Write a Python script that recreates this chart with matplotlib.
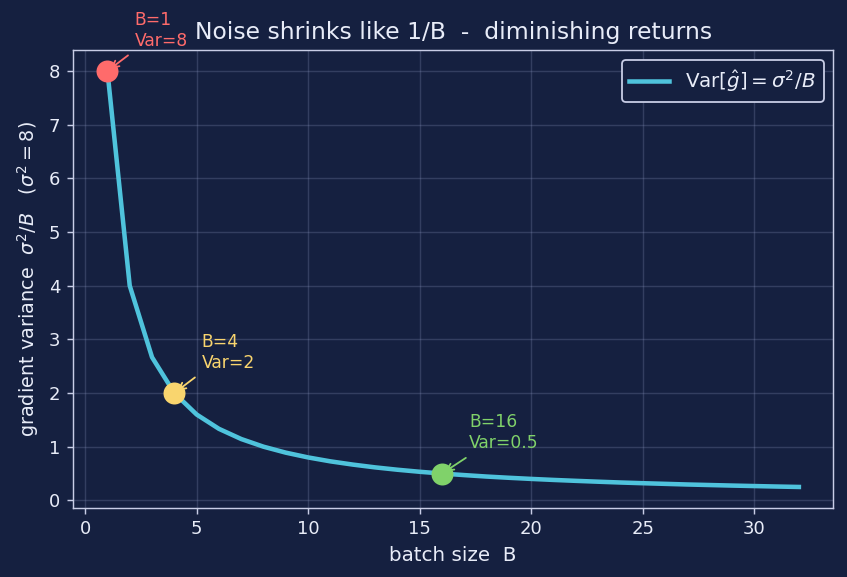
import matplotlib
matplotlib.use("Agg")
import matplotlib.pyplot as plt

# batch sizes and variance sigma^2/B with sigma^2 = 8
batch = [1, 2, 3, 4, 5, 6, 7, 8, 9, 10, 11, 12, 13, 14, 15, 16,
         17, 18, 19, 20, 21, 22, 23, 24, 25, 26, 27, 28, 29, 30, 31, 32]
variance = [8.0, 4.0, 2.667, 2.0, 1.6, 1.333, 1.143, 1.0, 0.889, 0.8,
            0.727, 0.667, 0.615, 0.571, 0.533, 0.5, 0.471, 0.444, 0.421,
            0.4, 0.381, 0.364, 0.348, 0.333, 0.32, 0.308, 0.296, 0.286,
            0.276, 0.267, 0.258, 0.25]

marked_b = [1, 4, 16]
marked_var = [8, 2, 0.5]
marked_labels = ["B=1\nVar=8", "B=4\nVar=2", "B=16\nVar=0.5"]
marked_colors = ["#ff6b6b", "#f9d56e", "#80d26a"]

bg = "#152040"
fg = "#e8ecf8"
edge = "#c8cde6"


def main():
    fig, ax = plt.subplots(figsize=(847 / 130, 577 / 130), dpi=130)
    fig.patch.set_facecolor(bg)
    ax.set_facecolor(bg)

    ax.plot(batch, variance, color="#4fc3dc", lw=2.5,
            label=r"Var$[\hat{g}] = \sigma^2/B$", zorder=2)

    for b, v, lab, c in zip(marked_b, marked_var, marked_labels, marked_colors):
        ax.scatter([b], [v], s=125, color=c, zorder=3)
        ax.annotate(lab, xy=(b, v), xytext=(15, 14), textcoords="offset points",
                    color=c, fontsize=9.5,
                    arrowprops=dict(arrowstyle="->", color=c, lw=1))

    ax.set_title("Noise shrinks like 1/B  -  diminishing returns",
                 color=fg, fontsize=13)
    ax.set_xlabel("batch size  B", color=fg, fontsize=11)
    ax.set_ylabel(r"gradient variance  $\sigma^2/B$   $(\sigma^2=8)$",
                  color=fg, fontsize=10.7)

    ax.grid(True, color="#8e98c0", alpha=0.25, lw=0.8)
    ax.tick_params(colors=edge, labelcolor=fg, labelsize=10)
    for s in ax.spines.values():
        s.set_color(edge)

    leg = ax.legend(loc="upper right", facecolor=bg, edgecolor=edge,
                    fontsize=11, framealpha=1)
    for t in leg.get_texts():
        t.set_color(fg)

    fig.subplots_adjust(left=0.086, right=0.984, top=0.913, bottom=0.12)
    fig.savefig("out.png", facecolor=bg)


if __name__ == "__main__":
    main()
